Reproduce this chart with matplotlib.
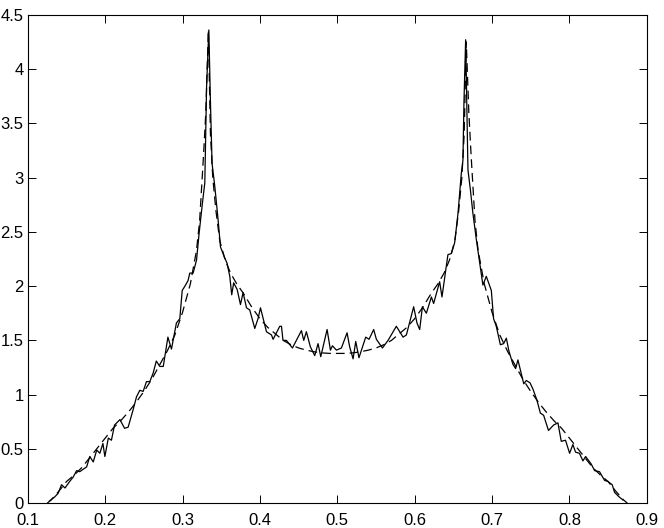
import matplotlib
matplotlib.use("Agg")
import matplotlib.pyplot as plt

# noisy histogram estimate (solid)
hist_x = [0.128, 0.135, 0.139, 0.1435, 0.148, 0.154, 0.1585, 0.163, 0.167, 0.176,
          0.180, 0.1845, 0.189, 0.193, 0.197, 0.1995, 0.204, 0.208, 0.212, 0.219,
          0.225, 0.2296, 0.236, 0.2404, 0.2447, 0.249, 0.2533, 0.2576, 0.262, 0.266,
          0.2705, 0.275, 0.281, 0.2856, 0.292, 0.2964, 0.2995, 0.303, 0.307, 0.3093,
          0.3136, 0.318, 0.3214, 0.3257, 0.3287, 0.331, 0.3339, 0.336, 0.3381, 0.3416,
          0.3459, 0.349, 0.3545, 0.3575, 0.361, 0.3635, 0.366, 0.3705, 0.3748, 0.3782,
          0.3826, 0.3868, 0.3933, 0.3975, 0.4007, 0.4084, 0.4149, 0.417, 0.4256, 0.4278,
          0.4298, 0.4342, 0.442, 0.4536, 0.4566, 0.460, 0.4652, 0.4708, 0.4751, 0.4786,
          0.4868, 0.4911, 0.4937, 0.4989, 0.5053, 0.5126, 0.516, 0.5204, 0.5238, 0.528,
          0.5367, 0.541, 0.547, 0.5505, 0.5583, 0.5656, 0.5763, 0.585, 0.5893, 0.5987,
          0.603, 0.6065, 0.610, 0.6151, 0.6216, 0.6245, 0.6323, 0.6353, 0.643, 0.6474,
          0.6517, 0.656, 0.6603, 0.6624, 0.6637, 0.6659, 0.6689, 0.672, 0.6753, 0.6797,
          0.684, 0.6882, 0.6926, 0.6991, 0.702, 0.7055, 0.7108, 0.715, 0.7185, 0.7219,
          0.727, 0.7305, 0.7335, 0.741, 0.7443, 0.749, 0.753, 0.758, 0.7625, 0.7667,
          0.773, 0.7796, 0.7852, 0.7895, 0.795, 0.8003, 0.8045, 0.808, 0.813, 0.8175,
          0.821, 0.8283, 0.8326, 0.839, 0.8455, 0.8497, 0.8554, 0.8584, 0.864, 0.8691]
hist_y = [0.02, 0.06, 0.09, 0.17, 0.14, 0.20, 0.24, 0.30, 0.29, 0.335,
          0.43, 0.38, 0.49, 0.46, 0.55, 0.43, 0.60, 0.58, 0.72, 0.77,
          0.69, 0.70, 0.86, 0.98, 1.04, 1.03, 1.12, 1.12, 1.20, 1.31,
          1.26, 1.26, 1.53, 1.42, 1.66, 1.70, 1.96, 2.00, 2.05, 2.12,
          2.12, 2.24, 2.49, 2.77, 2.95, 3.84, 4.36, 3.69, 3.13, 2.92,
          2.61, 2.36, 2.26, 2.21, 2.09, 1.92, 2.03, 1.97, 1.83, 1.94,
          1.80, 1.78, 1.61, 1.70, 1.80, 1.58, 1.55, 1.51, 1.63, 1.63,
          1.50, 1.50, 1.43, 1.59, 1.50, 1.58, 1.44, 1.36, 1.47, 1.35,
          1.60, 1.41, 1.45, 1.41, 1.43, 1.57, 1.44, 1.33, 1.49, 1.34,
          1.53, 1.51, 1.60, 1.51, 1.43, 1.50, 1.63, 1.53, 1.55, 1.81,
          1.66, 1.60, 1.81, 1.75, 1.90, 1.84, 2.04, 1.90, 2.29, 2.30,
          2.40, 2.67, 3.04, 3.16, 3.69, 4.27, 3.07, 2.89, 2.67, 2.43,
          2.22, 2.01, 2.09, 1.96, 1.70, 1.63, 1.46, 1.47, 1.52, 1.40,
          1.28, 1.24, 1.32, 1.10, 1.13, 1.11, 1.05, 0.95, 0.83, 0.81,
          0.67, 0.72, 0.74, 0.57, 0.58, 0.46, 0.54, 0.47, 0.46, 0.39,
          0.43, 0.36, 0.30, 0.29, 0.21, 0.20, 0.17, 0.10, 0.06, 0.03]

# smooth theoretical density (dashed)
dens_x = [0.125, 0.13, 0.14, 0.15, 0.16, 0.17, 0.18, 0.19, 0.20, 0.21,
          0.22, 0.23, 0.24, 0.25, 0.26, 0.27, 0.28, 0.29, 0.30, 0.31,
          0.318, 0.322, 0.327, 0.330, 0.3333, 0.336, 0.339, 0.343, 0.348, 0.355,
          0.362, 0.37, 0.378, 0.39, 0.40, 0.41, 0.42, 0.43, 0.44, 0.45,
          0.46, 0.47, 0.48, 0.49, 0.50, 0.51, 0.52, 0.53, 0.54, 0.55,
          0.56, 0.57, 0.58, 0.59, 0.60, 0.61, 0.622, 0.63, 0.638, 0.645,
          0.652, 0.657, 0.661, 0.664, 0.6667, 0.670, 0.673, 0.678, 0.682, 0.69,
          0.70, 0.71, 0.72, 0.73, 0.74, 0.75, 0.76, 0.77, 0.78, 0.79,
          0.80, 0.81, 0.82, 0.83, 0.84, 0.85, 0.86, 0.87, 0.875]
dens_y = [0.0, 0.03, 0.11, 0.20, 0.26, 0.33, 0.42, 0.51, 0.60, 0.69,
          0.76, 0.84, 0.93, 1.03, 1.14, 1.27, 1.40, 1.55, 1.76, 2.02,
          2.33, 2.60, 3.20, 3.60, 4.36, 3.40, 3.00, 2.70, 2.42, 2.24,
          2.12, 2.02, 1.94, 1.80, 1.70, 1.62, 1.56, 1.50, 1.46, 1.43,
          1.41, 1.395, 1.385, 1.38, 1.38, 1.38, 1.385, 1.395, 1.41, 1.43,
          1.46, 1.50, 1.56, 1.62, 1.70, 1.80, 1.94, 2.02, 2.12, 2.24,
          2.42, 2.70, 3.00, 3.40, 4.25, 3.60, 3.20, 2.60, 2.33, 2.02,
          1.76, 1.55, 1.40, 1.27, 1.14, 1.03, 0.93, 0.84, 0.76, 0.69,
          0.60, 0.51, 0.42, 0.33, 0.26, 0.20, 0.11, 0.03, 0.0]

x_ticks = [0.1, 0.2, 0.3, 0.4, 0.5, 0.6, 0.7, 0.8, 0.9]
y_ticks = [0, 0.5, 1, 1.5, 2, 2.5, 3, 3.5, 4, 4.5]
y_labels = ["0", "0.5", "1", "1.5", "2", "2.5", "3", "3.5", "4", "4.5"]

plt.rcParams["font.family"] = ["Liberation Sans", "DejaVu Sans"]

fig = plt.figure(figsize=(6.64, 5.28), dpi=100)
ax = fig.add_axes([0.042, 0.047, 0.932, 0.925])

ax.plot(hist_x, hist_y, color="black", linewidth=0.9)
ax.plot(dens_x, dens_y, color="black", linewidth=0.9, dashes=(7, 4))

ax.set_xlim(0.1, 0.9)
ax.set_ylim(0, 4.5)
ax.set_xticks(x_ticks)
ax.set_xticklabels([f"{v:g}" for v in x_ticks])
ax.set_yticks(y_ticks)
ax.set_yticklabels(y_labels)
ax.tick_params(direction="in", top=True, right=True, length=6, width=0.7,
               labelsize=12)
ax.tick_params(axis="x", pad=7)
ax.tick_params(axis="y", pad=3)
for s in ax.spines.values():
    s.set_linewidth(0.8)

fig.savefig("out.png", dpi=100)
